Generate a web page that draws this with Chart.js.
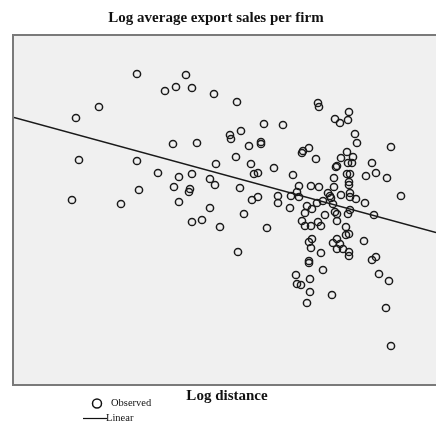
<!DOCTYPE html>
<html>
<head>
<meta charset="utf-8">
<script src="https://cdn.jsdelivr.net/npm/chart.js@4.4.1/dist/chart.umd.min.js"></script>
<style>
  html, body { margin: 0; padding: 0; background: #ffffff; }
  #wrap { width: 436px; height: 426px; position: relative; }
</style>
</head>
<body>
<div id="wrap"><canvas id="c" width="436" height="426"></canvas></div>
<script>
// ---- Data ----
const chartTitle = "Log average export sales per firm";
const xAxisTitle = "Log distance";
const legendLabels = ["Observed", "Linear"];

const logDistance = [
  1.44, 1.52, 1.58, 1.98, 2.42, 2.74, 2.74, 2.78, 3.16, 3.30, 3.52, 3.72, 3.84, 4.28, 4.74,
  3.46, 3.94, 3.58, 3.84, 4.20, 4.30, 3.48, 3.80, 3.78, 3.58, 4.20, 3.84, 4.04, 4.40, 4.32,
  4.72, 4.60, 4.62, 4.82, 5.28, 5.22, 5.22, 4.98, 5.02, 5.08, 5.16, 5.48, 4.80, 5.04, 5.16,
  5.56, 5.56, 4.88, 5.34, 4.76,
  5.66, 6.36, 6.38, 6.98, 6.70, 6.80, 6.96, 7.10, 7.14, 7.82, 6.06, 6.04, 6.18, 6.32, 6.94,
  7.06, 6.82, 6.96, 7.04, 6.72, 6.74, 7.44, 7.52, 7.74, 7.32, 5.86, 6.94, 7.00, 6.68, 6.98,
  6.98, 5.98, 6.22, 6.38, 6.68, 6.56, 5.94, 5.82, 5.98, 6.60, 6.62, 6.82, 7.00, 7.00, 7.12,
  7.30, 8.02, 5.80, 6.14, 6.34, 6.46, 6.66, 6.24, 6.10, 6.70, 6.74, 7.00, 6.96, 6.50, 7.48,
  6.04, 6.36, 6.74, 6.10, 6.22, 6.42, 6.92, 6.92, 6.98, 6.24, 6.18, 6.22, 6.66, 6.74, 6.80,
  6.86, 6.74, 6.98, 6.98, 7.28, 6.42, 6.18, 6.18, 6.46, 7.44, 7.52, 5.92, 7.58, 7.78, 6.20,
  5.94, 6.02, 6.20, 6.64, 6.14, 7.72, 7.82
];
const logExportSales = [
  4.52, 6.16, 5.32, 6.38, 4.44, 7.04, 5.30, 4.72, 5.06, 6.70, 6.78, 7.02, 6.76, 6.64, 6.48,
  5.64, 5.66, 4.98, 5.04, 4.94, 4.82, 4.78, 4.74, 4.68, 4.48, 4.36, 4.08, 4.12, 3.98, 5.24,
  5.38, 5.82, 5.74, 5.90, 6.04, 5.68, 5.64, 5.60, 5.24, 5.04, 5.06, 5.16, 4.76, 4.52, 4.58,
  4.60, 4.46, 4.24, 3.96, 3.48,
  6.02, 6.46, 6.38, 6.28, 6.14, 6.06, 6.12, 5.84, 5.66, 5.58, 5.50, 5.46, 5.56, 5.34, 5.48,
  5.38, 5.36, 5.26, 5.26, 5.18, 5.20, 5.26, 5.06, 4.96, 5.00, 5.02, 5.04, 5.04, 4.96, 4.88,
  4.82, 4.80, 4.80, 4.78, 4.78, 4.66, 4.68, 4.60, 4.58, 4.60, 4.56, 4.62, 4.66, 4.58, 4.54,
  4.46, 4.60, 4.36, 4.40, 4.46, 4.50, 4.44, 4.34, 4.26, 4.28, 4.24, 4.32, 4.24, 4.22, 4.22,
  4.10, 4.08, 4.10, 4.00, 4.00, 4.00, 3.98, 3.82, 3.84, 3.74, 3.68, 3.56, 3.66, 3.74, 3.64,
  3.54, 3.54, 3.48, 3.40, 3.70, 3.46, 3.30, 3.26, 3.12, 3.32, 3.38, 3.02, 3.04, 2.90, 2.94,
  2.84, 2.82, 2.68, 2.62, 2.46, 2.36, 1.60
];
// Fitted linear line (end points)
const linearX = [0.28, 8.72];
const linearY = [6.17, 3.87];
// Axis ranges
const xRange = [0.28, 8.72];
const yRange = [0.84, 7.80];

// ---- Build datasets ----
const observed = logDistance.map((x, i) => ({ x: x, y: logExportSales[i] }));
const linear = linearX.map((x, i) => ({ x: x, y: linearY[i] }));

const SERIF = "'Liberation Serif', 'DejaVu Serif', serif";

const framePlugin = {
  id: 'frame',
  beforeDatasetsDraw(chart) {
    const { ctx, chartArea: a } = chart;
    ctx.save();
    ctx.fillStyle = '#f0f0f0';
    ctx.fillRect(a.left, a.top, a.right - a.left, a.bottom - a.top);
    ctx.strokeStyle = '#7a7a7a';
    ctx.lineWidth = 2;
    ctx.beginPath();
    ctx.moveTo(a.right + 2, a.top - 1);
    ctx.lineTo(a.left - 1, a.top - 1);
    ctx.lineTo(a.left - 1, a.bottom + 1);
    ctx.lineTo(a.right + 2, a.bottom + 1);
    ctx.stroke();
    ctx.restore();
  },
  afterDraw(chart) {
    const { ctx, chartArea: a } = chart;
    ctx.save();
    ctx.fillStyle = '#111';
    ctx.textBaseline = 'middle';
    // title
    ctx.font = "bold 15px " + SERIF;
    ctx.textAlign = 'center';
    ctx.fillText(chartTitle, 216, 18.5);
    // x axis title
    ctx.fillText(xAxisTitle, 227, 396);
    // legend
    ctx.strokeStyle = '#111';
    ctx.lineWidth = 1.5;
    ctx.beginPath();
    ctx.arc(97, 403.5, 4.5, 0, Math.PI * 2);
    ctx.stroke();
    ctx.lineWidth = 1.2;
    ctx.beginPath();
    ctx.moveTo(83, 418.5);
    ctx.lineTo(107, 418.5);
    ctx.stroke();
    ctx.font = "10.5px " + SERIF;
    ctx.textAlign = 'left';
    ctx.fillText(legendLabels[0], 111, 403.5);
    ctx.fillText(legendLabels[1], 106, 418.5);
    ctx.restore();
  }
};

new Chart(document.getElementById('c'), {
  type: 'scatter',
  data: {
    datasets: [
      {
        label: legendLabels[0],
        data: observed,
        showLine: false,
        pointRadius: 3.6,
        pointBorderWidth: 1.5,
        pointBackgroundColor: 'rgba(0,0,0,0)',
        pointBorderColor: '#1a1a1a',
        pointHoverRadius: 3.6
      },
      {
        label: legendLabels[1],
        data: linear,
        type: 'line',
        showLine: true,
        borderColor: '#1a1a1a',
        borderWidth: 1.5,
        pointRadius: 0,
        fill: false
      }
    ]
  },
  options: {
    responsive: false,
    animation: false,
    layout: { autoPadding: false, padding: { left: 14, right: 0, top: 36, bottom: 42 } },
    plugins: {
      legend: { display: false },
      title: { display: false },
      tooltip: { enabled: false }
    },
    scales: {
      x: { type: 'linear', display: false, min: xRange[0], max: xRange[1] },
      y: { type: 'linear', display: false, min: yRange[0], max: yRange[1] }
    }
  },
  plugins: [framePlugin]
});
</script>
</body>
</html>
